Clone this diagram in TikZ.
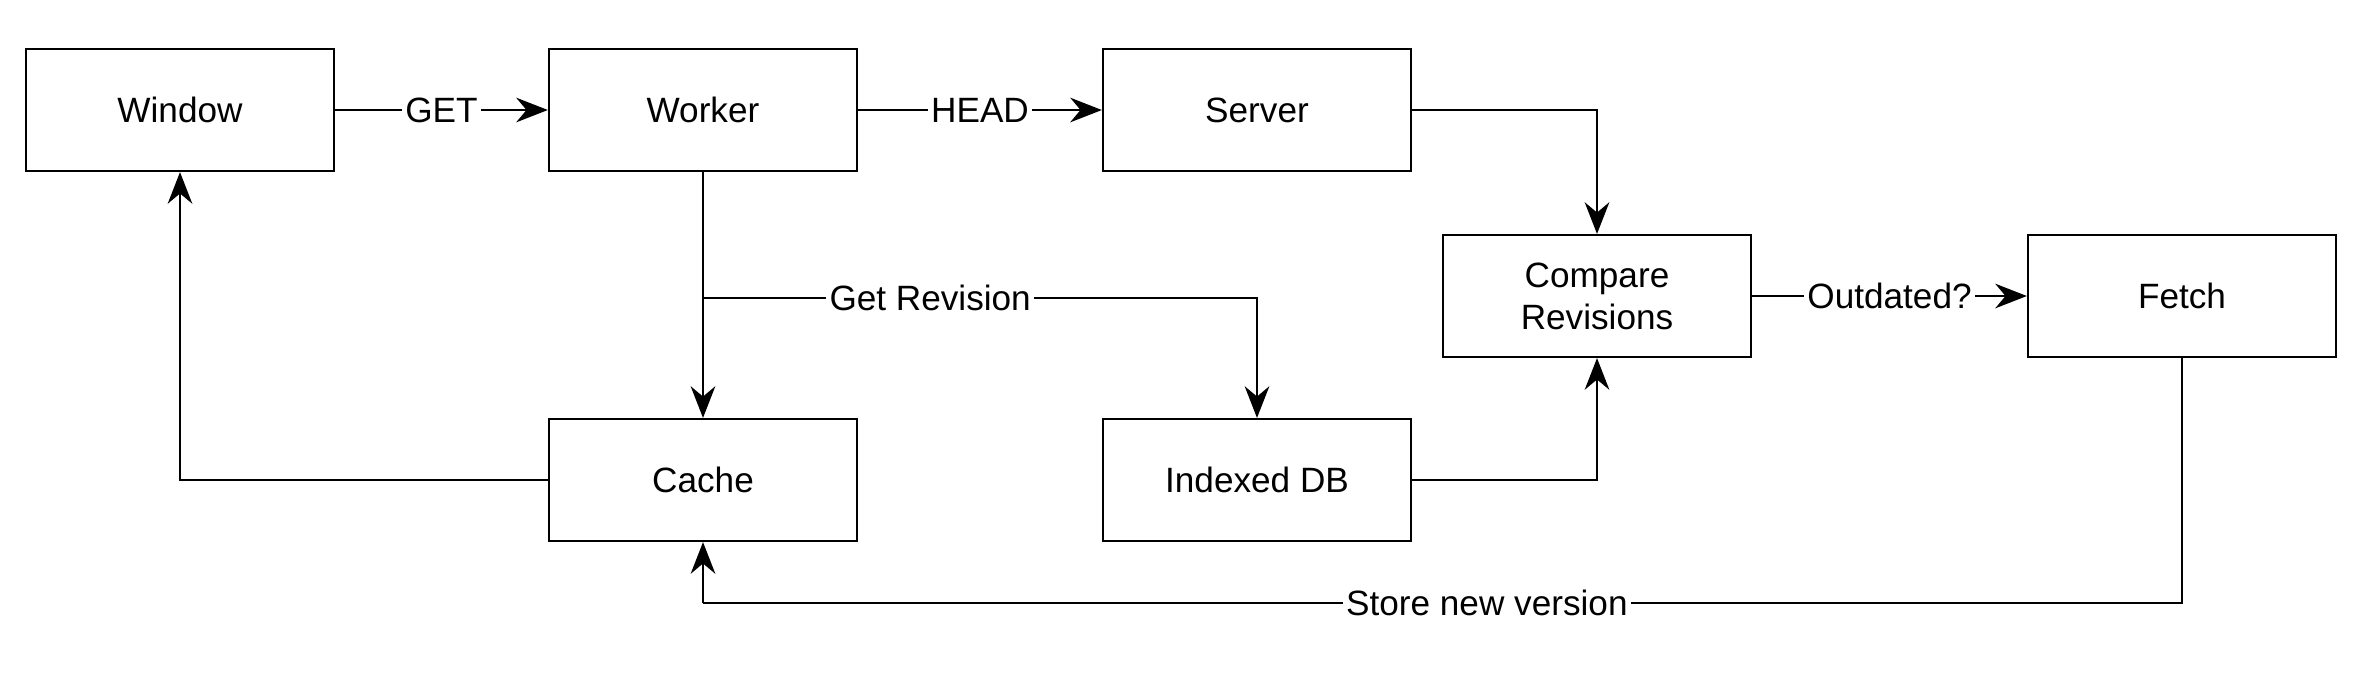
\documentclass[tikz,border=0pt]{standalone}
\usepackage{fontspec}
\setmainfont{Liberation Sans}
\usetikzlibrary{arrows.meta,positioning}

\begin{document}
\begin{tikzpicture}[x=0.01cm,y=-0.01cm,font=\fontsize{10}{12}\selectfont,
  box/.style={draw,line width=0.6pt,minimum width=3.08cm,minimum height=1.22cm,align=center},
  lbl/.style={fill=white,inner sep=1pt},
  >={Stealth[length=9pt,width=7pt]}]
\useasboundingbox (0,0) rectangle (2370,684);
\node[box] (window) at (180,110) {Window};
\node[box] (worker) at (703,110) {Worker};
\node[box] (server) at (1257,110) {Server};
\node[box] (compare) at (1597,296) {Compare\\Revisions};
\node[box] (fetch) at (2182,296) {Fetch};
\node[box] (cache) at (703,480) {Cache};
\node[box] (indexed) at (1257,480) {Indexed DB};
\coordinate (branch) at (703,298);
\coordinate (storecorner) at (703,603);
\begin{scope}[line width=0.6pt]
\draw[->] (window) -- node[lbl]{GET} (worker);
\draw[->] (worker) -- node[lbl]{HEAD} (server);
\draw[->] (server) -| (compare);
\draw[->] (worker) -- (cache);
\draw[->] (branch) -| node[lbl,pos=0.205]{Get Revision} (indexed);
\draw[->] (indexed) -| (compare);
\draw[->] (compare) -- node[lbl]{Outdated?} (fetch);
\draw (fetch) |- node[lbl,pos=0.735]{Store new version} (storecorner);
\draw[->] (storecorner) -- (cache);
\draw[->] (cache) -| (window);
\end{scope}
\end{tikzpicture}
\end{document}
